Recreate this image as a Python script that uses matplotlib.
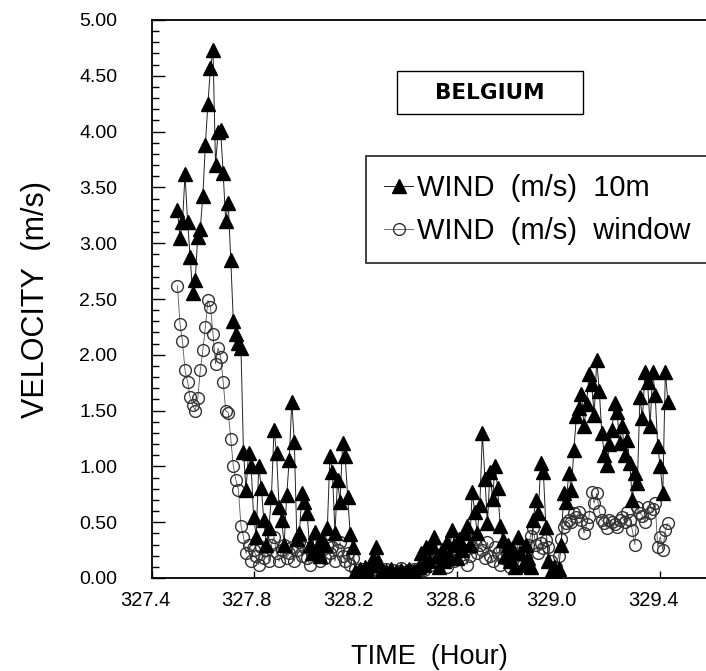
import matplotlib
matplotlib.use("Agg")
import matplotlib.pyplot as plt
import matplotlib.transforms as mtransforms
import numpy as np
from matplotlib.patches import Rectangle
from matplotlib.ticker import MultipleLocator, FormatStrFormatter

# sampling: one reading every 0.01 h starting at 327.50 h
t_start = 327.50
t_step = 0.01

# wind speed at 10 m (m/s)
wind_10m = [
    3.30, 3.05, 3.19, 3.62, 3.19, 2.88, 2.55, 2.67, 3.06, 3.13,
    3.42, 3.88, 4.25, 4.57, 4.73, 3.70, 4.00, 4.01, 3.63, 3.20,
    3.36, 2.85, 2.30, 2.19, 2.11, 2.06, 1.13, 0.79, 1.12, 1.00,
    0.55, 0.37, 1.00, 0.81, 0.52, 0.30, 0.45, 0.73, 1.33, 1.12,
    0.64, 0.52, 0.30, 0.74, 1.06, 1.58, 1.22, 0.35, 0.40, 0.76,
    0.68, 0.58, 0.30, 0.22, 0.41, 0.28, 0.20, 0.35, 0.30, 0.45,
    1.09, 0.95, 0.40, 0.88, 0.68, 1.21, 1.09, 0.73, 0.39, 0.28,
    0.05, 0.02, 0.08, 0.03, 0.10, 0.05, 0.12, 0.18, 0.28, 0.15,
    0.05, 0.02, 0.06, 0.03, 0.08, 0.02, 0.05, 0.03, 0.07, 0.02,
    0.05, 0.08, 0.03, 0.06, 0.02, 0.10, 0.22, 0.12, 0.28, 0.15,
    0.30, 0.37, 0.20, 0.10, 0.25, 0.15, 0.32, 0.20, 0.43, 0.30,
    0.18, 0.35, 0.25, 0.40, 0.47, 0.30, 0.77, 0.59, 0.40, 0.65,
    1.30, 0.89, 0.49, 0.95, 0.71, 1.00, 0.81, 0.47, 0.34, 0.20,
    0.30, 0.15, 0.25, 0.10, 0.37, 0.22, 0.12, 0.30, 0.18, 0.10,
    0.52, 0.70, 0.58, 1.03, 0.95, 0.46, 0.15, 0.05, 0.10, 0.03,
    0.08, 0.30, 0.76, 0.68, 0.94, 0.79, 1.15, 1.45, 1.52, 1.65,
    1.36, 1.56, 1.83, 1.74, 1.46, 1.95, 1.68, 1.30, 1.10, 1.01,
    1.20, 1.33, 1.57, 1.49, 1.21, 1.36, 1.10, 1.24, 1.03, 0.70,
    0.94, 0.85, 1.62, 1.43, 1.85, 1.76, 1.36, 1.85, 1.64, 1.18,
    1.00, 0.76, 1.85, 1.58,
]

# wind speed at the window (m/s)
wind_window = [
    2.62, 2.28, 2.12, 1.86, 1.76, 1.62, 1.55, 1.50, 1.61, 1.86,
    2.04, 2.25, 2.49, 2.43, 2.19, 1.92, 2.06, 1.98, 1.76, 1.50,
    1.48, 1.25, 1.00, 0.88, 0.79, 0.47, 0.37, 0.22, 0.30, 0.15,
    0.25, 0.20, 0.12, 0.28, 0.18, 0.25, 0.15, 0.30, 0.37, 0.22,
    0.15, 0.25, 0.30, 0.18, 0.22, 0.28, 0.15, 0.25, 0.32, 0.20,
    0.28, 0.18, 0.12, 0.22, 0.30, 0.20, 0.15, 0.25, 0.18, 0.30,
    0.22, 0.28, 0.15, 0.25, 0.32, 0.20, 0.15, 0.22, 0.12, 0.18,
    0.08, 0.05, 0.03, 0.08, 0.04, 0.06, 0.10, 0.05, 0.08, 0.03,
    0.06, 0.04, 0.08, 0.05, 0.03, 0.07, 0.04, 0.06, 0.09, 0.05,
    0.03, 0.07, 0.05, 0.08, 0.04, 0.06, 0.10, 0.07, 0.12, 0.15,
    0.22, 0.12, 0.18, 0.25, 0.14, 0.20, 0.10, 0.18, 0.26, 0.15,
    0.22, 0.30, 0.18, 0.25, 0.12, 0.20, 0.28, 0.35, 0.22, 0.30,
    0.25, 0.18, 0.32, 0.20, 0.15, 0.28, 0.22, 0.12, 0.18, 0.25,
    0.15, 0.10, 0.20, 0.28, 0.15, 0.22, 0.12, 0.18, 0.30, 0.38,
    0.45, 0.30, 0.22, 0.31, 0.27, 0.34, 0.28, 0.15, 0.05, 0.10,
    0.20, 0.35, 0.46, 0.49, 0.52, 0.50, 0.58, 0.55, 0.59, 0.52,
    0.40, 0.48, 0.55, 0.77, 0.67, 0.76, 0.60, 0.52, 0.49, 0.45,
    0.52, 0.50, 0.48, 0.46, 0.52, 0.55, 0.50, 0.59, 0.52, 0.43,
    0.30, 0.64, 0.58, 0.56, 0.50, 0.64, 0.58, 0.62, 0.67, 0.28,
    0.37, 0.25, 0.43, 0.49,
]

x_ticks = [327.4, 327.8, 328.2, 328.6, 329.0, 329.4]

time = t_start + t_step * np.arange(len(wind_10m))

plt.rcParams['font.family'] = ['Liberation Sans', 'DejaVu Sans']

fig = plt.figure(figsize=(7.06, 6.71), dpi=100)
ax = fig.add_axes([152/706, 93/671, 554/706, 558/671])

ax.plot(time, wind_window, color='#555555', lw=0.6, marker='o', ms=8.5,
        mfc='none', mec='#333333', mew=1.0, label='WIND  (m/s)  window')
ax.plot(time, wind_10m, color='#222222', lw=0.7, marker='^', ms=9.5,
        mfc='black', mec='black', label='WIND  (m/s)  10m')

ax.set_xlim(327.4, 329.58)
ax.set_ylim(0, 5)
ax.set_xticks(x_ticks)
ax.xaxis.set_major_formatter(FormatStrFormatter('%.1f'))
ax.yaxis.set_major_locator(MultipleLocator(0.5))
ax.yaxis.set_minor_locator(MultipleLocator(0.1))
ax.yaxis.set_major_formatter(FormatStrFormatter('%.2f'))

ax.tick_params(axis='y', which='major', direction='in', length=9, width=1,
               labelsize=14, pad=25)
ax.tick_params(axis='y', which='minor', direction='in', length=5, width=1)
ax.tick_params(axis='x', which='major', direction='in', length=5, width=1,
               labelsize=14.5, pad=9)
for lbl in ax.get_xticklabels():
    lbl.set_transform(lbl.get_transform() +
                      mtransforms.ScaledTranslation(-7/100, 0, fig.dpi_scale_trans))

for side in ['left', 'bottom', 'top']:
    ax.spines[side].set_linewidth(1.3)
ax.spines['right'].set_visible(False)

ax.set_ylabel('VELOCITY  (m/s)', fontsize=22, labelpad=20)
ax.set_xlabel('TIME  (Hour)', fontsize=19.5, labelpad=25)

handles, labels = ax.get_legend_handles_labels()
leg = ax.legend(handles[::-1], labels[::-1], loc='upper left',
                bbox_to_anchor=(0.386, 0.756), fontsize=21, frameon=True,
                fancybox=False, edgecolor='black', handlelength=1.0,
                handletextpad=0.15, borderpad=0.62, labelspacing=0.5,
                borderaxespad=0)
leg.get_frame().set_linewidth(1.3)

# station name in its own framed box
ax.add_patch(Rectangle((0.442, 0.832), 0.336, 0.077, transform=ax.transAxes,
                       fill=False, ec='black', lw=1.0))
ax.text(0.61, 0.870, 'BELGIUM', transform=ax.transAxes, fontsize=15.5,
        family='DejaVu Sans', fontweight='bold', ha='center', va='center')

fig.savefig('out.png', dpi=100)
